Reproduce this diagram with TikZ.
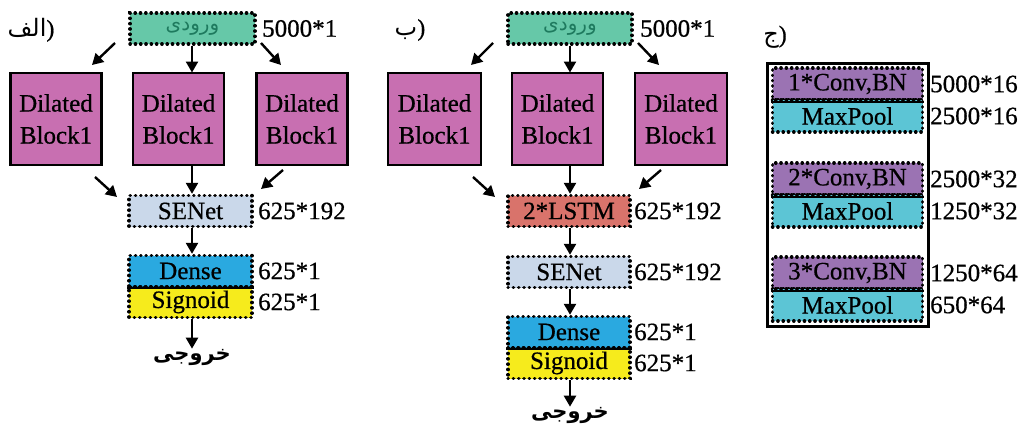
\documentclass[tikz,border=0pt]{standalone}
\usepackage{fontspec}
\setmainfont{Liberation Serif}[FakeBold=0.6]
\newfontfamily\fa[Script=Arabic]{DejaVu Sans}
\TeXXeTstate=1
\usetikzlibrary{arrows.meta}
\definecolor{cin}{HTML}{66C8A8}
\definecolor{cintxt}{HTML}{1E7A5E}
\definecolor{cdil}{HTML}{C86FB1}
\definecolor{csen}{HTML}{CAD8EA}
\definecolor{cden}{HTML}{2AA9E0}
\definecolor{csig}{HTML}{F6EB1C}
\definecolor{clstm}{HTML}{D9736B}
\definecolor{cconv}{HTML}{9B73B3}
\definecolor{cpool}{HTML}{5CC5D5}
\tikzset{
  dotbox/.style={draw=black, line width=3.4pt, line cap=round, dash pattern=on 0.3pt off 5pt,
    minimum width=123pt, minimum height=31pt, inner sep=0pt},
  blk/.style={draw=black, line width=2.5pt, fill=cdil, minimum width=91pt,
    minimum height=92pt, align=center, inner sep=0pt},
  dim/.style={anchor=west, inner sep=0pt},
  arr/.style={line width=2.4pt, -{Triangle[length=11pt,width=12pt]}},
  sep/.style={line width=2.4pt},
  fatxt/.style={font=\fa\bfseries\fontsize{21}{24}\selectfont, inner sep=0pt},
  pnl/.style={font=\fa\fontsize{24}{26}\selectfont, inner sep=0pt},
}
\newcommand{\intxt}{\fa\fontsize{20}{22}\selectfont\color{cintxt}\beginR ورودی\endR}
\begin{document}
\begin{tikzpicture}[x=1pt,y=-1pt,font=\fontsize{25}{32}\selectfont]
\useasboundingbox (0,0) rectangle (1020,426);

% ---------------- Panel A ----------------
\node[pnl] (labA) at (31,30) {\hbox{\beginR الف\endR}\hbox{\rmfamily )}};
\node[dotbox, fill=cin, minimum width=125pt] (inA) at (192.5,28.5) {\intxt};
\node[dim] (inAd) at (262,28.5) {5000*1};
\node[blk] (d1A) at (56,119) {Dilated\\Block1};
\node[blk] (d2A) at (178.5,119) {Dilated\\Block1};
\node[blk] (d3A) at (302,119) {Dilated\\Block1};
\node[dotbox, fill=csen] (sA) at (190.5,211) {SENet};
\node[dim] (sAd) at (258,211) {625*192};
\node[dotbox, fill=cden] (dnA) at (190.5,271) {Dense};
\node[dotbox, fill=csig] (sgA) at (190.5,302) {Signoid};
\draw[sep] (dnA.south west) -- (dnA.south east);
\node[dim] (dnAd) at (258,271) {625*1};
\node[dim] (sgAd) at (258,302) {625*1};
\node[fatxt] (outA) at (192,357) {\beginR خروجی\endR};

\coordinate (a1s) at (115,43);  \coordinate (a1e) at (92,65);
\coordinate (a3s) at (261,43);  \coordinate (a3e) at (281,65);
\coordinate (b1s) at (95,177);  \coordinate (b1e) at (117,197);
\coordinate (b3s) at (283,170); \coordinate (b3e) at (261,189);
\draw[arr] (a1s) -- (a1e);
\draw[arr] (a3s) -- (a3e);
\draw[arr] (inA.south -| 192,0) -- (192,72.5);
\draw[arr] (b1s) -- (b1e);
\draw[arr] (b3s) -- (b3e);
\draw[arr] (192,165.5) -- (sA.north -| 192,0);
\draw[arr] (sA.south -| 192,0) -- (dnA.north -| 192,0);
\draw[arr] (sgA.south -| 192,0) -- (outA.north -| 192,0);

% ---------------- Panel B ----------------
\node[pnl] (labB) at (410,30) {\hbox{\beginR ب\endR}\hbox{\rmfamily )}};
\node[dotbox, fill=cin, minimum width=124pt] (inB) at (570,28.5) {\intxt};
\node[dim] (inBd) at (640,28.5) {5000*1};
\node[blk, minimum width=93pt] (d1B) at (434.5,119) {Dilated\\Block1};
\node[blk] (d2B) at (557.5,119) {Dilated\\Block1};
\node[blk, minimum width=92pt] (d3B) at (681,119) {Dilated\\Block1};
\node[dotbox, fill=clstm, minimum width=122pt] (lB) at (569,211) {2*LSTM};
\node[dim] (lBd) at (634,211) {625*192};
\node[dotbox, fill=csen, minimum width=122pt] (sB) at (569,272) {SENet};
\node[dim] (sBd) at (634,272) {625*192};
\node[dotbox, fill=cden, minimum width=122pt] (dnB) at (569,332) {Dense};
\node[dotbox, fill=csig, minimum width=122pt] (sgB) at (569,363) {Signoid};
\draw[sep] (dnB.south west) -- (dnB.south east);
\node[dim] (dnBd) at (634,332) {625*1};
\node[dim] (sgBd) at (634,363) {625*1};
\node[fatxt] (outB) at (570,415) {\beginR خروجی\endR};

\coordinate (c1s) at (493,43);  \coordinate (c1e) at (471,65);
\coordinate (c3s) at (638,43);  \coordinate (c3e) at (659,65);
\coordinate (e1s) at (473,177); \coordinate (e1e) at (495,197);
\coordinate (e3s) at (661,170); \coordinate (e3e) at (639,189);
\draw[arr] (c1s) -- (c1e);
\draw[arr] (c3s) -- (c3e);
\draw[arr] (inB.south -| 570,0) -- (570,72.5);
\draw[arr] (e1s) -- (e1e);
\draw[arr] (e3s) -- (e3e);
\draw[arr] (570,165.5) -- (lB.north -| 570,0);
\draw[arr] (lB.south -| 570,0) -- (sB.north -| 570,0);
\draw[arr] (sB.south -| 570,0) -- (dnB.north -| 570,0);
\draw[arr] (sgB.south -| 570,0) -- (outB.north -| 570,0);

% ---------------- Panel C ----------------
\node[pnl] (labC) at (775,37) {\hbox{\beginR ج\endR}\hbox{\rmfamily )}};
\node[draw=black, line width=3pt, minimum width=161pt, minimum height=263pt,
  inner sep=0pt] (frameC) at (847.5,195) {};
\node[dotbox, fill=cconv, minimum width=150pt, minimum height=32pt] (c1) at (847.5,84) {1*Conv,BN};
\node[dotbox, fill=cpool, minimum width=150pt, minimum height=32pt] (p1) at (847.5,116) {MaxPool};
\node[dotbox, fill=cconv, minimum width=150pt, minimum height=32pt] (c2) at (847.5,179) {2*Conv,BN};
\node[dotbox, fill=cpool, minimum width=150pt, minimum height=32pt] (p2) at (847.5,211) {MaxPool};
\node[dotbox, fill=cconv, minimum width=150pt, minimum height=32pt] (c3) at (847.5,273) {3*Conv,BN};
\node[dotbox, fill=cpool, minimum width=150pt, minimum height=32pt] (p3) at (847.5,305) {MaxPool};
\draw[sep] (c1.south west) -- (c1.south east);
\draw[sep] (c2.south west) -- (c2.south east);
\draw[sep] (c3.south west) -- (c3.south east);
\node[dim] (c1d) at (930,84) {5000*16};
\node[dim] (p1d) at (930,116) {2500*16};
\node[dim] (c2d) at (930,179) {2500*32};
\node[dim] (p2d) at (930,211) {1250*32};
\node[dim] (c3d) at (930,273) {1250*64};
\node[dim] (p3d) at (930,305) {650*64};
\end{tikzpicture}
\end{document}
